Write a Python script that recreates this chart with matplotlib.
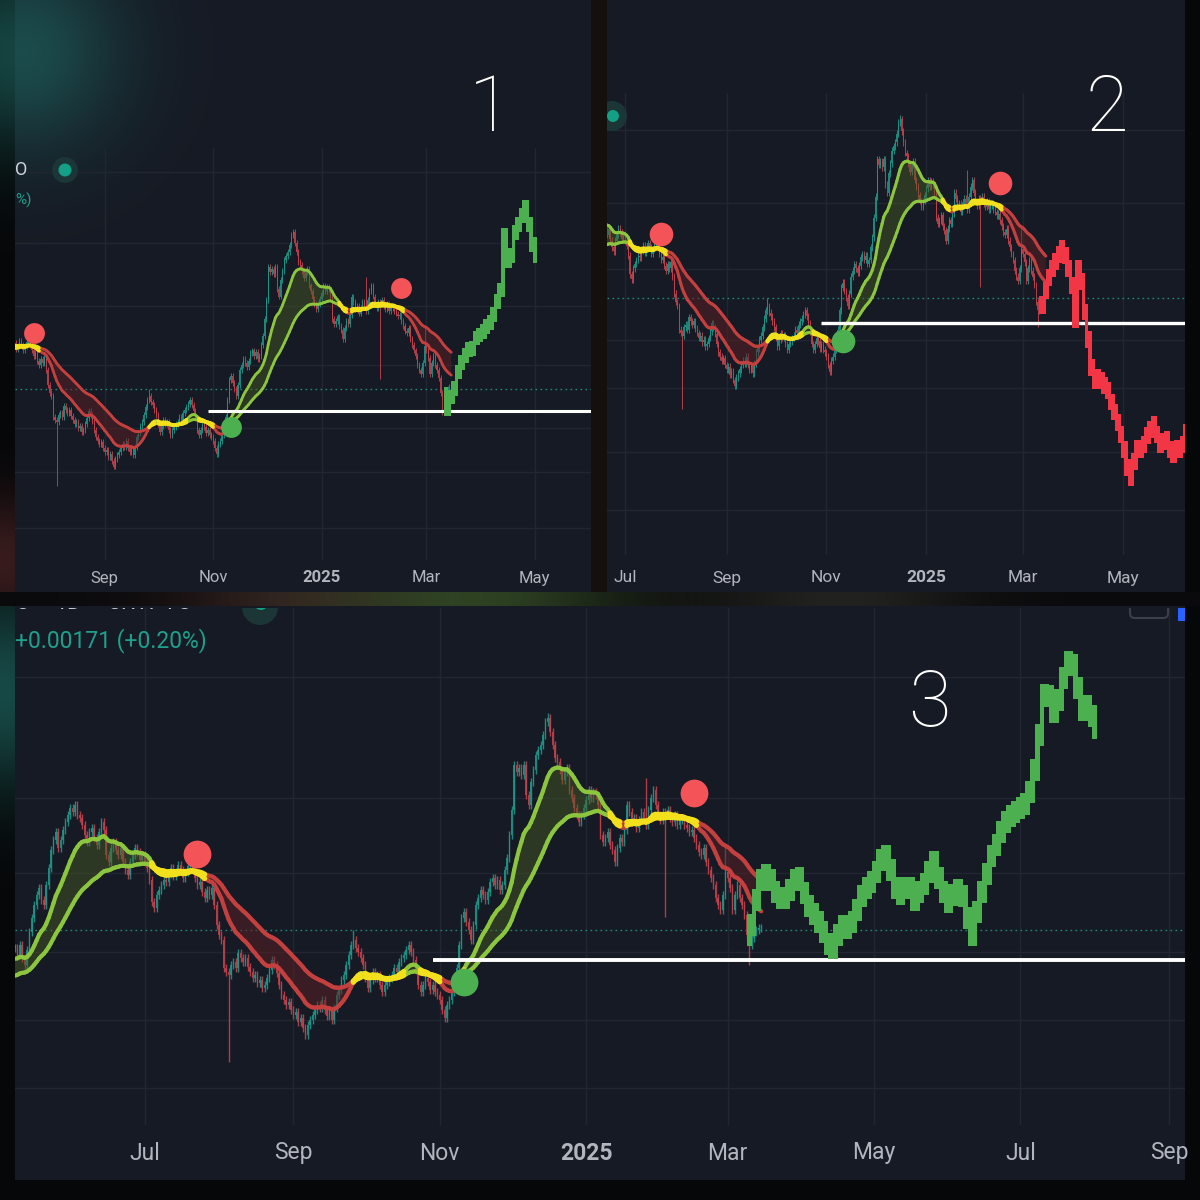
import matplotlib
matplotlib.use('Agg')
import matplotlib.pyplot as plt
import matplotlib.dates as mdates
import matplotlib.transforms as mtransforms
from matplotlib.collections import LineCollection
from matplotlib.patches import Rectangle, Circle, FancyBboxPatch
import numpy as np
import pandas as pd

plt.rcParams['font.family'] = ['Roboto', 'DejaVu Sans']

# ---------------- data (prices in thousandths) ----------------
hist_start = '2024-05-08'
hist_close = np.array([
    837, 830, 840, 827, 820, 835, 853, 867, 880, 890, 897, 885, 880, 900, 917, 935, 945, 953, 937, 945,
    955, 963, 970, 977, 973, 980, 970, 967, 960, 950, 943, 953, 957, 947, 940, 953, 963, 955, 930, 923,
    937, 943, 935, 930, 937, 923, 915, 910, 923, 930, 937, 933, 925, 930, 923, 917, 905, 883, 877, 890,
    895, 900, 905, 903, 911, 917, 909, 913, 920, 915, 907, 913, 919, 923, 915, 907, 900, 903, 893, 887,
    895, 890, 897, 880, 860, 850, 845, 817, 813, 810, 820, 823, 817, 832, 827, 823, 827, 818, 813, 807,
    810, 802, 805, 797, 800, 807, 815, 825, 820, 812, 800, 790, 785, 780, 783, 775, 770, 773, 763, 767,
    757, 750, 760, 765, 770, 775, 780, 777, 785, 775, 769, 775, 765, 777, 790, 795, 805, 810, 820, 830,
    840, 845, 837, 833, 827, 820, 807, 797, 805, 813, 807, 810, 800, 793, 800, 803, 807, 810, 817, 813,
    823, 827, 830, 835, 840, 833, 825, 815, 800, 793, 800, 807, 803, 795, 800, 793, 790, 785, 775, 767,
    780, 785, 793, 800, 817, 840, 867, 873, 863, 855, 845, 860, 880, 887, 895, 890, 885, 893, 903, 907,
    900, 905, 895, 900, 915, 927, 950, 975, 1020, 1013, 1017, 1010, 1020, 990, 980, 1003, 1015, 1030, 1035, 1040,
    1050, 1063, 1067, 1053, 1040, 1027, 1023, 1015, 1005, 1013, 1017, 995, 987, 977, 970, 963, 970, 977,
    985, 995, 987, 993, 990, 980, 950, 943, 947, 953, 940, 935, 923, 937, 947, 943, 955, 980, 973, 963,
    967, 957, 965, 973, 967, 960, 975, 987, 995, 980, 970, 965, 973, 970, 975, 967, 963, 970, 960, 965,
    967, 960, 957, 953, 955, 947, 940, 933, 930, 937, 923, 915, 907, 900, 887, 880, 875, 890, 913, 907,
    897, 875, 890, 900, 887, 880, 870, 850, 840, 847, 853, 855, 857, 857,
]) / 1000

# long wicks
low_spike_dates = ['2024-08-05', '2025-02-03', '2025-03-10']
low_spike_vals = [0.723, 0.868, 0.820]
high_spike_dates = ['2024-09-26', '2024-12-16', '2025-01-26', '2025-02-28']
high_spike_vals = [0.855, 1.072, 1.007, 0.938]

# moving averages start values (read at the left edge of chart 3)
fast_seed, slow_seed = 0.825, 0.808

# signals
sig_dates = ['2024-07-23', '2024-11-11', '2025-02-15']
sig_prices = [0.931, 0.803, 0.992]
sig_kind = ['sell', 'buy', 'sell']

# support line and last price
support_level = 0.825
support_start = '2024-10-29'
last_price = 0.855

# projected paths, one value every 2 days
proj1_start = '2025-03-12'
proj1 = np.array([829, 844, 856, 878, 891, 900, 908, 910, 924, 928, 933, 939, 945, 956, 973, 989,
                  1063, 1029, 1036, 1067, 1077, 1090, 1100, 1077, 1050, 1036]) / 1000
proj2_start = '2025-03-12'
proj2 = np.array([846, 864, 879, 890, 898, 906, 914, 905, 890, 870, 829, 890, 874, 838, 805, 772,
                  757, 760, 757, 751, 745, 731, 719, 707, 692, 674, 653, 641, 660, 676, 674, 680,
                  691, 698, 704, 692, 680, 684, 686, 674, 668, 676, 674, 680, 695]) / 1000
proj3_start = '2025-03-10'
proj3 = np.array([860, 885, 905, 910, 905, 893, 887, 887, 895, 905, 907, 892, 879, 871, 863, 853,
                  841, 837, 850, 859, 857, 863, 875, 889, 897, 903, 913, 925, 929, 915, 897, 891,
                  897, 897, 885, 893, 901, 913, 923, 907, 893, 883, 890, 895, 889, 867, 850, 873,
                  893, 911, 929, 940, 953, 963, 969, 973, 977, 981, 993, 1015, 1050, 1090, 1089, 1073,
                  1085, 1107, 1123, 1120, 1097, 1075, 1079, 1069, 1057]) / 1000

ticks1 = [('2024-09-01', 'Sep'), ('2024-11-01', 'Nov'), ('2025-01-01', '2025'),
          ('2025-03-01', 'Mar'), ('2025-05-01', 'May')]
ticks2 = [('2024-07-01', 'Jul')] + ticks1
ticks3 = ticks2 + [('2025-07-01', 'Jul'), ('2025-09-01', 'Sep')]

grid1 = [1.148, 1.052, 0.967, 0.887, 0.802, 0.743, 0.667]
grid2 = [1.055, 0.968, 0.889, 0.805, 0.748, 0.672, 0.603]
grid3 = [1.108, 0.987, 0.912, 0.833, 0.765, 0.697]

# ---------------- style ----------------
W = H = 1200
PANEL = '#161a24'
GRID = '#222632'
TEAL = '#1f9486'
RED = '#c2404b'
MA_GREEN = '#8cc63e'
MA_RED = '#c4403f'
MA_YEL = '#f2e01c'
PROJ_GREEN = '#4caf50'
PROJ_RED = '#f23645'
DOT_RED = '#f45458'
DOT_GREEN = '#4caf50'
LABEL = '#b2b5be'


def ema(values, n, seed):
    a = 2.0 / (n + 1)
    out = np.empty_like(values)
    prev = seed
    for i, v in enumerate(values):
        prev = prev + a * (v - prev)
        out[i] = prev
    return out


def num(d):
    return mdates.date2num(pd.Timestamp(d).to_datetime64())


hist_x = mdates.date2num(pd.date_range(hist_start, periods=len(hist_close), freq='D').to_numpy())
opens = np.r_[hist_close[0], hist_close[:-1]]
highs = np.maximum(opens, hist_close) + 0.004
lows = np.minimum(opens, hist_close) - 0.004
t0 = pd.Timestamp(hist_start)
for d, v in zip(low_spike_dates, low_spike_vals):
    lows[(pd.Timestamp(d) - t0).days] = v
for d, v in zip(high_spike_dates, high_spike_vals):
    highs[(pd.Timestamp(d) - t0).days] = v

fast = ema(hist_close, 18, fast_seed)
slow = ema(hist_close, 45, slow_seed)
diff = fast - slow
state = np.where(np.abs(diff) < 0.0035, 0, np.where(diff > 0, 1, -1))


def frac(x0, y0, x1, y1):
    return [x0 / W, 1 - y1 / H, (x1 - x0) / W, (y1 - y0) / H]


fig = plt.figure(figsize=(12, 12), dpi=100)
fig.patch.set_facecolor('#060709')

# background layer in pixel coordinates
bg = fig.add_axes([0, 0, 1, 1])
bg.set_xlim(0, W)
bg.set_ylim(H, 0)
bg.axis('off')
for x0, y0, x1, y1 in [(15, 0, 591, 592), (607, 0, 1185, 592), (15, 606, 1185, 1180)]:
    bg.add_patch(Rectangle((x0, y0), x1 - x0, y1 - y0, color=PANEL, lw=0, zorder=1))
bg.add_patch(Rectangle((591, 0), 16, 592, color='#15100d', lw=0, zorder=1))
bg.add_patch(Rectangle((0, 592), W, 14, color='#0a0a0c', lw=0, zorder=1))

yy, xx = np.mgrid[0:H:4, 0:W:4].astype(float)


def glow(cx, cy, r, color, amp, extent=None):
    if extent is None:
        gx, gy, ext = xx, yy, [0, W, H, 0]
    else:
        x0, x1, y0, y1 = extent
        gy, gx = np.mgrid[y0:y1:1, x0:x1:1].astype(float)
        ext = [x0, x1, y1, y0]
    a = amp * np.exp(-((gx - cx) ** 2 + (gy - cy) ** 2) / (2 * r * r))
    img = np.zeros(gx.shape + (4,))
    img[..., :3] = matplotlib.colors.to_rgb(color)
    img[..., 3] = np.clip(a, 0, 1)
    bg.imshow(img, extent=ext, interpolation='bilinear', aspect='auto', zorder=3)


glow(20, 50, 70, '#1e6660', 0.65)
glow(0, 690, 70, '#1b5a55', 0.8, (0, 15, 606, 1000))
glow(0, 560, 45, '#5a2a2a', 0.6, (0, 15, 400, 592))
glow(300, 599, 90, '#4a2a2a', 0.6, (0, W, 592, 606))
glow(470, 599, 110, '#3c5a2c', 0.7, (0, W, 592, 606))
glow(840, 599, 90, '#3a3a34', 0.5, (0, W, 592, 606))
bg.set_xlim(0, W)
bg.set_ylim(H, 0)

panels = [
    dict(box=(15, 148, 591, 560), xlim=('2024-07-12 12:00', '2025-06-01 16:00'), ylim=(0.6235, 1.181),
         grid=grid1, ticks=ticks1, label_y=578, fs=12, ma_lw=2.0, wick_lw=0.7, ms=15, white_lw=2.2,
         proj=(proj1_start, proj1, PROJ_GREEN), pad=0.010, big=('1', 490, 110)),
    dict(box=(607, 93, 1185, 555), xlim=('2024-06-20', '2025-06-08'), ylim=(0.549, 1.0985),
         grid=grid2, ticks=ticks2, label_y=578, fs=12.5, ma_lw=2.2, wick_lw=0.75, ms=17, white_lw=2.4,
         proj=(proj2_start, proj2, PROJ_RED), pad=0.010, big=('2', 1107, 110)),
    dict(box=(15, 608, 1185, 1125), xlim=('2024-05-08', '2025-09-07 14:00'), ylim=(0.660, 1.177),
         grid=grid3, ticks=ticks3, label_y=1153, fs=16.5, ma_lw=3.0, wick_lw=1.0, ms=20, white_lw=2.8,
         proj=(proj3_start, proj3, PROJ_GREEN), pad=0.011, big=('3', 929, 705)),
]

axes = []
for p in panels:
    ax = fig.add_axes(frac(*p['box']))
    ax.set_facecolor('none')
    xl = (num(p['xlim'][0]), num(p['xlim'][1]))
    ax.set_xlim(*xl)
    ax.set_ylim(*p['ylim'])
    for s in ax.spines.values():
        s.set_visible(False)
    tick_x = [num(d) for d, _ in p['ticks']]
    ax.set_xticks(tick_x)
    ax.set_yticks(p['grid'])
    ax.tick_params(length=0, labelbottom=False, labelleft=False)
    ax.grid(True, color=GRID, lw=1.0, zorder=0)
    ax.set_axisbelow(True)
    trans = mtransforms.blended_transform_factory(ax.transData, fig.transFigure)
    for tx, (_, lab) in zip(tick_x, p['ticks']):
        ax.text(tx, 1 - p['label_y'] / H, lab, transform=trans, ha='center', va='center',
                fontsize=p['fs'], color=LABEL, clip_on=False,
                fontweight='bold' if lab == '2025' else 'normal')

    # last price dotted line
    ax.axhline(last_price, color='#1f8a7c', lw=1.0, ls=(0, (1.2, 2.4)), zorder=1)

    # candles
    up = hist_close >= opens
    col = np.where(up, TEAL, RED)
    ax.vlines(hist_x, lows, highs, colors=col, lw=p['wick_lw'], alpha=0.9, zorder=2)
    body_lo = np.minimum(opens, hist_close)
    body_h = np.maximum(np.abs(hist_close - opens), 0.002)
    ax.bar(hist_x, body_h, bottom=body_lo, width=0.6, color=col, alpha=0.9, lw=0, zorder=2)

    # ribbon between averages
    ax.fill_between(hist_x, fast, slow, where=diff > 0, interpolate=True, color='#4a5e24', alpha=0.45,
                    lw=0, zorder=2.5)
    ax.fill_between(hist_x, fast, slow, where=diff <= 0, interpolate=True, color='#5e2024', alpha=0.5,
                    lw=0, zorder=2.5)
    for line in (slow, fast):
        pts = np.column_stack([hist_x, line])
        segs = np.stack([pts[:-1], pts[1:]], axis=1)
        st = state[:-1]
        trend = st != 0
        cols = [MA_GREEN if s > 0 else MA_RED for s in st[trend]]
        ax.add_collection(LineCollection(segs[trend], colors=cols, linewidths=p['ma_lw'],
                                         capstyle='round', zorder=3))
        ax.add_collection(LineCollection(segs[~trend], colors=MA_YEL, linewidths=p['ma_lw'] * 1.3,
                                         capstyle='round', zorder=3.2))

    # support line
    ax.plot([num(support_start), xl[1]], [support_level, support_level], color='white',
            lw=p['white_lw'], solid_capstyle='butt', zorder=3.5)

    # projection
    pstart, pvals, pcol = p['proj']
    px = mdates.date2num(pd.date_range(pstart, periods=len(pvals), freq='2D').to_numpy())
    prev0 = hist_close[(pd.Timestamp(pstart) - t0).days - 1]
    prev = np.r_[prev0, pvals[:-1]]
    lo = np.minimum(prev, pvals) - p['pad']
    hi = np.maximum(prev, pvals) + p['pad']
    ax.bar(px, hi - lo, bottom=lo, width=2.0, color=pcol, lw=0, zorder=4)

    # signals
    for d, v, k in zip(sig_dates, sig_prices, sig_kind):
        ax.plot(num(d), v, 'o', ms=p['ms'], color=DOT_RED if k == 'sell' else DOT_GREEN,
                mec='none', zorder=6)

    b, bx, by = p['big']
    fig.text(bx / W, 1 - by / H, b, ha='center', va='center', fontsize=56, color='white',
             fontweight='light')
    axes.append(ax)

ax1, ax2, ax3 = axes

# legend remnants of the screenshots
fig.text(15 / W, 1 - 170 / H, 'O', ha='left', va='center', fontsize=13, color='#d1d4dc')
fig.patches.append(Circle((65 / W, 1 - 170 / H), 13 / W, transform=fig.transFigure,
                          color='#1c3537', lw=0, zorder=2))
fig.patches.append(Circle((65 / W, 1 - 170 / H), 6.5 / W, transform=fig.transFigure,
                          color='#14a086', lw=0, zorder=2.1))
fig.text(15 / W, 1 - 200 / H, '%)', ha='left', va='center', fontsize=11, color='#1fa08d')
ax2.add_patch(Circle((612 / W, 1 - 116 / H), 15 / W, transform=fig.transFigure, color='#1c3537', lw=0))
ax2.add_patch(Circle((613 / W, 1 - 116 / H), 6 / W, transform=fig.transFigure, color='#14a086', lw=0))

for s, x in [('O', 15), ('1D', 54), ('CRYPTO', 107)]:
    ax3.text(x / W, 1 - 603 / H, s, transform=fig.transFigure, ha='left', va='center',
             fontsize=16.5, color='#c8cad2', clip_on=True)
ax3.add_patch(Circle((260 / W, 1 - 607 / H), 18 / W, transform=fig.transFigure, color='#1c3537', lw=0))
ax3.add_patch(Circle((261 / W, 1 - 603 / H), 7 / W, transform=fig.transFigure, color='#14a086', lw=0))
ax3.add_patch(FancyBboxPatch((1130 / W, 1 - 618 / H), 38 / W, 14 / H, boxstyle='round,pad=0,rounding_size=0.004',
                             transform=fig.transFigure, fc='none', ec='#3b3f4a', lw=1.5))
ax3.add_patch(Rectangle((1178 / W, 1 - 621 / H), 8 / W, 15 / H, transform=fig.transFigure,
                        color='#2962ff', lw=0))
fig.text(15 / W, 1 - 641 / H, '+0.00171 (+0.20%)', ha='left', va='center', fontsize=16.5,
         color='#1fa08d')

fig.savefig('out.png', dpi=100, facecolor=fig.get_facecolor())
